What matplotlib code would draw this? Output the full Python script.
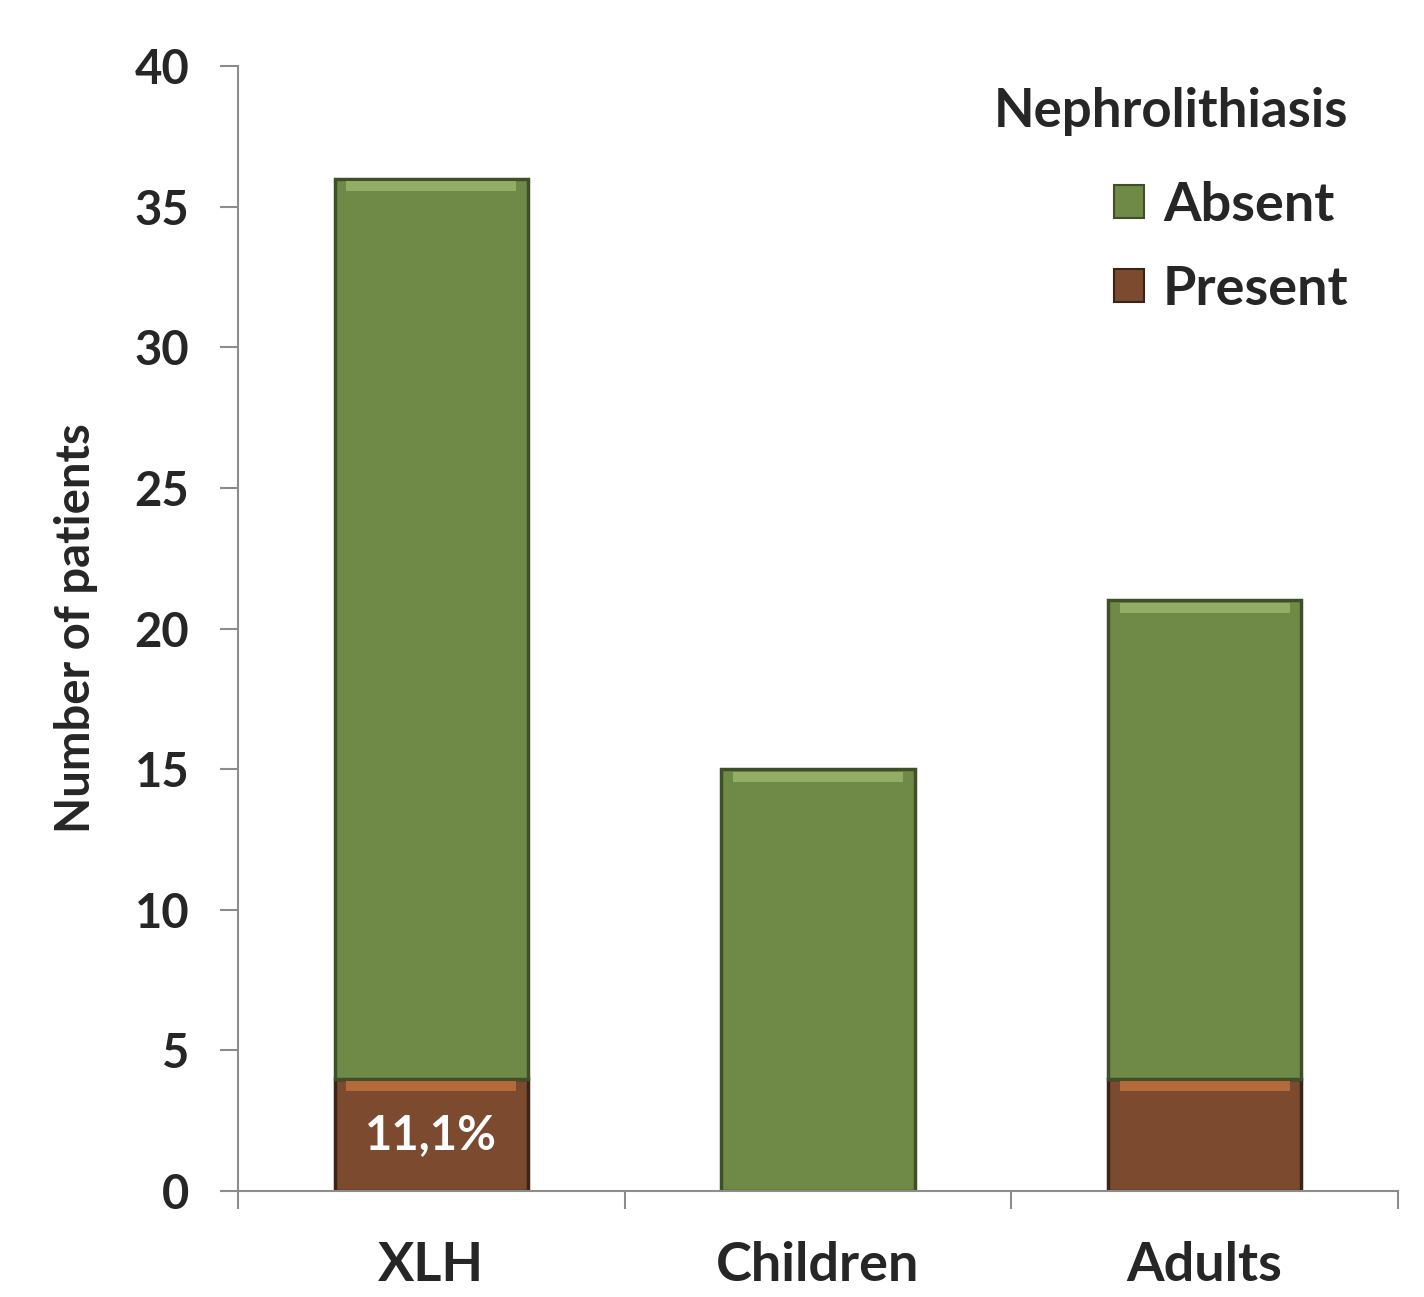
"""
    nephrolithiasis by group, stacked bars
"""

import numpy
from matplotlib import pyplot as plt

groups  = ["XLH", "Children", "Adults"]
present = numpy.array([4, 0, 4], dtype=float)
absent  = numpy.array([32, 15, 17], dtype=float)
pct_lbl = ["11,1%", "", ""]

green   = "#6f8a47"
green_h = "#9db86c"
green_d = "#3f4f27"
brown   = "#7b4a2f"
brown_h = "#c4733f"
brown_d = "#3a2418"

plt.rcParams['font.family'] = ['Lato', 'DejaVu Sans']
plt.rcParams['font.weight'] = 'bold'

def bevel_bars(ax, xx, bottoms, heights, face, hi, dark, width) :
    # body, dark side edges, and a light strip along the top
    for x, b, h in zip(xx, bottoms, heights) :
        if h <= 0 :
            continue
        ax.bar(x, h, bottom=b, width=width, color=face, edgecolor=dark, linewidth=2.5, zorder=2)
        ax.bar(x, 0.35, bottom=b + h - 0.45, width=width * 0.88, color=hi, linewidth=0, zorder=3, alpha=0.8)

def main() :
    fig = plt.figure(figsize=(14.24, 12.97), dpi=100)
    ax = fig.add_axes([0.1671, 0.0817, 0.8146, 0.8674])
    xx = numpy.arange(len(groups))
    width = 0.5

    bevel_bars(ax, xx, numpy.zeros(3), present, brown, brown_h, brown_d, width)
    bevel_bars(ax, xx, present, absent, green, green_h, green_d, width)

    for ii in range(len(groups)) :
        if pct_lbl[ii] :
            ax.text(xx[ii], present[ii] / 2, pct_lbl[ii], color="white", fontsize=34,
                    fontweight="bold", ha="center", va="center", zorder=4)

    ax.set_xlim(-0.5, 2.5)
    ax.set_ylim(0, 40)
    ax.set_yticks(numpy.arange(0, 41, 5))
    ax.set_xticks(xx)
    ax.set_xticklabels(groups)
    ax.set_xticks([-0.5, 0.5, 1.5, 2.5], minor=True)

    for s in ["top", "right"] :
        ax.spines[s].set_visible(False)
    for s in ["left", "bottom"] :
        ax.spines[s].set_color("#8c8c8c")
        ax.spines[s].set_linewidth(1.5)

    ax.tick_params(axis="y", length=13, width=1.5, color="#8c8c8c", pad=22, labelsize=34, labelcolor="#262626")
    ax.tick_params(axis="x", which="major", length=0, pad=36, labelsize=39, labelcolor="#262626")
    ax.tick_params(axis="x", which="minor", length=13, width=1.5, color="#8c8c8c")

    ax.set_ylabel("Number of patients", fontsize=34, fontweight="bold", color="#262626", labelpad=26)

    h1 = plt.Rectangle((0, 0), 1, 1, facecolor=green, edgecolor=green_d, linewidth=1.5)
    h2 = plt.Rectangle((0, 0), 1, 1, facecolor=brown, edgecolor=brown_d, linewidth=1.5)
    leg = ax.legend([h1, h2], ["Absent", "Present"], title="Nephrolithiasis", frameon=False,
                    loc="upper right", bbox_to_anchor=(0.99, 1.015), fontsize=39,
                    title_fontproperties={"size": 38, "weight": "bold"},
                    handlelength=0.55, handleheight=0.55, handletextpad=0.35, labelspacing=0.65,
                    borderpad=0.2)
    leg._legend_box.align = "right"
    leg._legend_box.sep = 32
    for t in leg.get_texts() :
        t.set_color("#262626")
    leg.get_title().set_color("#262626")

    fig.savefig("out.png", dpi=100)

if __name__ == '__main__' :
    main()
